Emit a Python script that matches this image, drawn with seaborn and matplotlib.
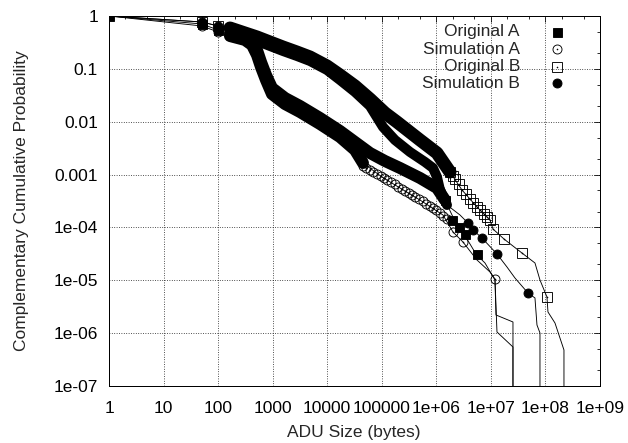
import matplotlib
matplotlib.use("Agg")
import matplotlib.pyplot as plt
from matplotlib.lines import Line2D
from matplotlib.ticker import LogLocator, NullFormatter
import pandas as pd
import seaborn as sns

# CCDF curves (ADU size in bytes, probability)
orig_a_x = [1, 50.6, 100, 165, 311, 418, 516, 611, 754, 972, 1682, 3168, 7367, 17130, 32270,
            60770, 114500, 215600, 501400, 1.027e6, 1.44e6, 1.936e6, 2.493e6, 3.212e6, 5.328e6,
            7.79e6, 1.188e7, 1.239e7, 2.539e7, 2.539e7]
orig_a_y = [1, 0.706, 0.543, 0.456, 0.384, 0.322, 0.227, 0.1348, 0.0765, 0.0434, 0.0281, 0.01983,
            0.01176, 0.00668, 0.00413, 0.002559, 0.001806, 0.001332, 0.000862, 0.000557, 0.00033,
            0.0001719, 0.0001065, 7.51e-5, 3.145e-5, 2.125e-5, 1.013e-5, 2.206e-6, 1.626e-6, 1e-8]

sim_a_x = [1, 50.6, 100, 165, 311, 418, 516, 611, 754, 972, 1682, 3168, 7367, 17130, 32270,
           45220, 100900, 215600, 501400, 1.323e6, 2.018e6, 3.078e6, 5.558e6, 9.619e6, 1.188e7,
           1.293e7, 2.539e7, 2.539e7]
sim_a_y = [1, 0.647, 0.498, 0.418, 0.352, 0.283, 0.183, 0.1084, 0.0616, 0.0334, 0.02163, 0.01527,
           0.00905, 0.00514, 0.002917, 0.001656, 0.0009, 0.000557, 0.00033, 0.0001719, 8.2e-5,
           5.3e-5, 2.42e-5, 1.436e-5, 1.058e-5, 1.052e-6, 5.47e-7, 1e-8]

orig_b_x = [1, 50.6, 100, 165, 311, 516, 893, 1546, 2790, 4831, 9900, 17130, 32270, 60770, 114500,
            189900, 501400, 1.027e6, 1.778e6, 2.951e6, 5.558e6, 9.619e6, 1.092e7, 1.737e7, 3.712e7,
            6.427e7, 7.937e7, 1.066e8, 1.112e8, 1.495e8, 2.185e8, 2.185e8]
orig_b_y = [1, 0.77, 0.647, 0.593, 0.477, 0.401, 0.322, 0.259, 0.208, 0.1677, 0.1133, 0.0765,
            0.0474, 0.0269, 0.01462, 0.00988, 0.00451, 0.002559, 0.001119, 0.000511, 0.000244,
            0.0001383, 9.34e-5, 6.04e-5, 3.28e-5, 2.125e-5, 1.013e-5, 4.83e-6, 2.515e-6, 1.557e-6,
            4.8e-7, 1e-8]

sim_b_x = [1, 50.6, 100, 165, 311, 516, 893, 1546, 2790, 4831, 9900, 17130, 32270, 60770, 105200,
           174600, 328800, 619300, 867800, 1.027e6, 1.166e6, 1.567e6, 2.713e6, 3.802e6, 4.695e6,
           6.863e6, 1.293e7, 1.971e7, 2.762e7, 4.782e7, 6.427e7, 6.993e7, 7.937e7, 7.937e7]
sim_b_y = [1, 0.77, 0.647, 0.543, 0.418, 0.337, 0.2707, 0.2177, 0.175, 0.1408, 0.0952, 0.0616,
           0.0365, 0.01983, 0.00795, 0.00451, 0.002674, 0.00173, 0.001332, 0.0009, 0.000511,
           0.000266, 0.0001719, 0.0001213, 8.95e-5, 6.31e-5, 3.145e-5, 1.785e-5, 1.105e-5,
           5.75e-6, 4.63e-6, 1.427e-6, 1.007e-6, 1e-8]

# points where a symbol is drawn
orig_a_mx = [1, 50.6, 100, 1.44e6, 1.94e6, 2.6e6, 3.35e6, 5.558e6]
orig_a_my = [1, 0.706, 0.543, 0.00033, 0.000138, 0.0001019, 7.51e-5, 3.145e-5]

sim_a_mx = [50.6, 100, 45220, 52000, 60770, 70000, 81660, 95000, 109700, 127000, 147400, 172000,
            198200, 230000, 266200, 310000, 357700, 415000, 480700, 560000, 645900, 750000,
            867800, 1.0e6, 1.166e6, 1.35e6, 1.567e6, 2.018e6, 3.078e6, 1.188e7]
sim_a_my = [0.647, 0.498, 0.001453, 0.00133, 0.001221, 0.00112, 0.001026, 0.00094, 0.000862,
            0.00079, 0.000724, 0.00065, 0.000582, 0.00053, 0.000489, 0.00045, 0.000411, 0.000376,
            0.000345, 0.00031, 0.000277, 0.000254, 0.000233, 0.00021, 0.0001875, 0.000165,
            0.0001444, 8.2e-5, 5.3e-5, 1.058e-5]

orig_b_mx = [50.6, 100, 1.778e6, 1.98e6, 2.196e6, 2.55e6, 2.951e6, 3.5e6, 4.137e6, 4.8e6,
             5.558e6, 6.4e6, 7.469e6, 8.5e6, 9.619e6, 1.092e7, 1.737e7, 3.712e7, 1.066e8]
orig_b_my = [0.77, 0.647, 0.001119, 0.00096, 0.000825, 0.00065, 0.000511, 0.00042, 0.000345,
             0.00029, 0.000244, 0.00021, 0.0001796, 0.000158, 0.0001383, 9.34e-5, 6.04e-5,
             3.28e-5, 4.83e-6]

sim_b_mx = [50.6, 100, 1.166e6, 3.802e6, 4.695e6, 6.863e6, 1.293e7, 4.782e7]
sim_b_my = [0.77, 0.647, 0.000511, 0.0001213, 8.95e-5, 6.31e-5, 3.145e-5, 5.75e-6]

x_ticks = [1, 10, 100, 1000, 1e4, 1e5, 1e6, 1e7, 1e8, 1e9]
x_labels = ["1", "10", "100", "1000", "10000", "100000", "1e+06", "1e+07", "1e+08", "1e+09"]
y_ticks = [1, 0.1, 0.01, 0.001, 1e-4, 1e-5, 1e-6, 1e-7]
y_labels = ["1", "0.1", "0.01", "0.001", "1e-04", "1e-05", "1e-06", "1e-07"]

sns.set_theme(style="white")
plt.rcParams["font.family"] = ["Liberation Sans", "DejaVu Sans"]
FS = 12.5
PX = 0.72  # points per pixel at 100 dpi

fig = plt.figure(figsize=(6.28, 4.43), dpi=100)
ax = fig.add_axes([109 / 628, 1 - 386 / 443, 491 / 628, 370 / 443])
ax.set_xscale("log")
ax.set_yscale("log")


def draw_curve(x, y, band, band_px):
    df = pd.DataFrame({"x": x, "y": y})
    sns.lineplot(data=df, x="x", y="y", ax=ax, sort=False, estimator=None,
                 color="black", linewidth=0.9 * PX)
    b = df.iloc[band[0]:band[1] + 1]
    sns.lineplot(data=b, x="x", y="y", ax=ax, sort=False, estimator=None,
                 color="black", linewidth=band_px * PX,
                 solid_capstyle="round", solid_joinstyle="round")


def draw_marks(mx, my, marker, filled, size_px):
    sns.lineplot(x=mx, y=my, ax=ax, sort=False, estimator=None, linestyle="none",
                 marker=marker, markersize=size_px * PX,
                 markerfacecolor="black" if filled else "none",
                 markeredgecolor="black", markeredgewidth=0.9 * PX)
    if not filled:
        sns.lineplot(x=mx, y=my, ax=ax, sort=False, estimator=None, linestyle="none",
                     marker="o", markersize=1.6 * PX, markerfacecolor="black",
                     markeredgecolor="black", markeredgewidth=0)


draw_curve(orig_b_x, orig_b_y, (3, 18), 13)
draw_curve(sim_b_x, sim_b_y, (3, 21), 10)
draw_curve(sim_a_x, sim_a_y, (3, 15), 12)
draw_curve(orig_a_x, orig_a_y, (3, 20), 12)

draw_marks(orig_b_mx, orig_b_my, "s", False, 10)
draw_marks(sim_b_mx, sim_b_my, "o", True, 9)
draw_marks(sim_a_mx, sim_a_my, "o", False, 9)
draw_marks(orig_a_mx, orig_a_my, "s", True, 9)

ax.set_xlim(1, 1e9)
ax.set_ylim(1e-7, 1)
ax.set_xticks(x_ticks)
ax.set_xticklabels(x_labels)
ax.set_yticks(y_ticks)
ax.set_yticklabels(y_labels)
ax.xaxis.set_minor_locator(LogLocator(base=10, subs=[2, 5], numticks=30))
ax.yaxis.set_minor_locator(LogLocator(base=10, subs=[2, 5], numticks=30))
ax.xaxis.set_minor_formatter(NullFormatter())
ax.yaxis.set_minor_formatter(NullFormatter())
ax.tick_params(which="both", direction="in", top=True, right=True, colors="black",
               labelsize=FS, width=0.8 * PX)
ax.tick_params(which="major", length=6 * PX)
ax.tick_params(which="minor", length=3 * PX)
ax.tick_params(axis="x", pad=11)
ax.tick_params(axis="y", pad=8)
ax.grid(True, which="major", color="black", linestyle=(0, (1, 2)), linewidth=0.8 * PX)
for s in ax.spines.values():
    s.set_color("black")
    s.set_linewidth(1.0 * PX)
ax.set_xlabel("")
ax.set_ylabel("")

fig.text(354 / 628, 1 - 432 / 443, "ADU Size (bytes)", ha="center", va="center", fontsize=FS)
fig.text(22 / 628, 1 - 201 / 443, "Complementary Cumulative Probability", ha="center",
         va="center", rotation=90, fontsize=FS)

# key: text right-aligned, symbol on the right
key = [("Original A", "s", True, 9), ("Simulation A", "o", False, 9),
       ("Original B", "s", False, 10), ("Simulation B", "o", True, 9)]
rows = [31.7, 49.3, 66.7, 83.3]
for (label, m, filled, sz), r in zip(key, rows):
    fig.text(520 / 628, 1 - r / 443, label, ha="right", va="center", fontsize=FS)
    fig.add_artist(Line2D([557 / 628], [1 - r / 443], transform=fig.transFigure,
                          marker=m, markersize=sz * PX, linestyle="none",
                          markerfacecolor="black" if filled else "none",
                          markeredgecolor="black", markeredgewidth=0.9 * PX))
    if not filled:
        fig.add_artist(Line2D([557 / 628], [1 - r / 443], transform=fig.transFigure,
                              marker="o", markersize=1.6 * PX, linestyle="none",
                              markerfacecolor="black", markeredgewidth=0))

fig.savefig("out.png", dpi=100)
